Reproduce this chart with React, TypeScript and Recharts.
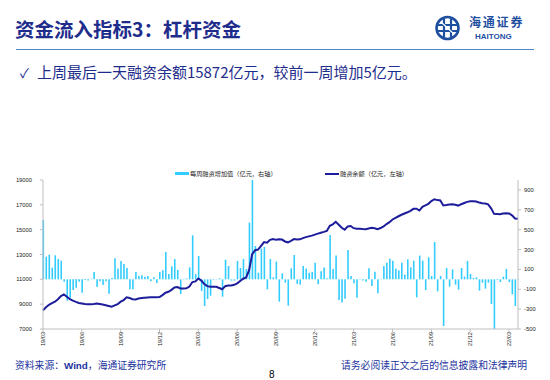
import { ComposedChart, Bar, Line, XAxis, YAxis } from 'recharts'

// weekly financing net change (亿元, right axis), 19/03 -> 22/04
const weeklyChange = [
  598, 228, 249, 118, 242, 205, 188, -24, -215, -185,
  -108, -84, -24, -134, -7, -13, 7, 74, -74, -20,
  -57, -20, -144, 13, 212, 108, 185, 155, 114, -100,
  -100, 74, 34, 40, 27, 34, -20, 20, -37, 74,
  91, 276, 54, 131, 205, 94, -148, 5, 8, 121,
  443, 54, 235, -118, -269, -198, -165, -5, 3, 10,
  -175, 198, 134, -13, -13, 185, 114, 205, 104, 571,
  1000, 336, 67, 309, 326, -100, 205, 20, 178, -225,
  60, -34, -265, 111, 245, -47, -54, 134, 108, 67,
  74, 168, -50, 81, 118, 10, 447, 104, 239, -208,
  -232, -195, 296, 34, -40, -185, 7, -13, -24, 111,
  -67, 77, -141, 5, 134, 168, 208, 188, 108, 91,
  168, 47, 202, 121, 188, -181, 239, 188, -108, 222,
  34, 376, -121, 34, -470, 114, -74, 101, -54, -104,
  114, 27, 185, 54, 13, 20, -114, -34, -94, -34,
  -249, -500, -7, -27, 27, 104, -27, -151, -269, 5,
]

// financing balance (亿元, left axis)
const balance = [
  8500, 8750, 8950, 9080, 9200, 9400, 9650, 9780, 9600, 9400,
  9280, 9180, 9100, 9060, 9010, 9000, 9000, 9020, 9060, 9020,
  8980, 8920, 8860, 8800, 8900, 9000, 9200, 9330, 9550, 9500,
  9400, 9380, 9450, 9500, 9520, 9540, 9550, 9550, 9550, 9570,
  9730, 9920, 10000, 10150, 10350, 10380, 10270, 10270, 10280, 10420,
  10780, 10830, 11070, 10900, 10620, 10450, 10400, 10400, 10400, 10300,
  10200, 10450, 10510, 10510, 10560, 10680, 10870, 11050, 11150, 11740,
  13000, 13350, 13400, 13700, 14000, 13950, 14180, 14250, 14180, 14220,
  14200, 14050, 13980, 14100, 14240, 14200, 14220, 14320, 14400, 14460,
  14520, 14600, 14680, 14750, 14820, 14900, 15310, 15430, 15630, 15400,
  15150, 15000, 15260, 15300, 15120, 15080, 15070, 15050, 15040, 15100,
  15150, 15120, 15040, 15130, 15260, 15450, 15600, 15820, 15950, 16080,
  16200, 16300, 16400, 16520, 16680, 16690, 16540, 16840, 16950, 17080,
  17300, 17450, 17380, 17350, 16950, 16980, 17020, 17050, 17000, 16940,
  17050, 17150, 17240, 17280, 17290, 17260, 17180, 17130, 17100, 17040,
  16720, 16270, 16260, 16250, 16300, 16330, 16300, 16150, 15900, 15872,
]

const tickWeeks = [0, 13, 26, 39, 52, 65, 78, 91, 104, 117, 130, 143, 156]
const tickLabels = ['19/03', '19/06', '19/09', '19/12', '20/03', '20/06', '20/09', '20/12', '21/03', '21/06', '21/09', '21/12', '22/03']
const leftTicks = [7000, 9000, 11000, 13000, 15000, 17000, 19000]
const rightTicks = [-500, -300, -100, 100, 300, 500, 700, 900]

const rows = weeklyChange.map((v, i) => ({ i, change: v, balance: balance[i] }))

const NAVY = '#1E2C8C'
const CJK = '"Noto Sans CJK SC", "Noto Sans", sans-serif'
const SANS = '"Liberation Sans", Arial, sans-serif'
const AXIS = '#BFBFBF'

function DateTick({ x, y, payload }: any) {
  const idx = tickWeeks.indexOf(payload.value)
  return (
    <text
      x={x}
      y={y}
      transform={`rotate(-90, ${x}, ${y})`}
      textAnchor="end"
      dominantBaseline="central"
      fontSize={5.6}
      fontFamily={SANS}
      fill="#222"
    >
      {idx >= 0 ? tickLabels[idx] : ''}
    </text>
  )
}

function Logo() {
  return (
    <svg width={550} height={50} style={{ position: 'absolute', left: 0, top: 0 }}>
      <circle cx={447.5} cy={28} r={11} fill="none" stroke="#1F4F9F" strokeWidth={2.6} />
      <path d="M438 25 H457 M438 31 H457 M444 19 V37 M451 19 V37" stroke="#1F4F9F" strokeWidth={2.2} fill="none" />
      <path d="M441 22 Q447.5 28 454 34" stroke="#fff" strokeWidth={1.2} fill="none" />
    </svg>
  )
}

export default function App() {
  return (
    <div style={{ position: 'absolute', left: 0, top: 0, width: 550, height: 380, background: '#fff', overflow: 'hidden' }}>
      <div style={{ position: 'absolute', left: 15, top: 15, fontFamily: CJK, fontWeight: 700, fontSize: 19.5, color: NAVY, whiteSpace: 'nowrap', lineHeight: '28px' }}>
        资金流入指标3：杠杆资金
      </div>
      <Logo />
      <div style={{ position: 'absolute', left: 469, top: 16, fontFamily: CJK, fontWeight: 700, fontSize: 12, color: '#1F4F9F', letterSpacing: 1.8, whiteSpace: 'nowrap', lineHeight: '12px' }}>
        海通证券
      </div>
      <div style={{ position: 'absolute', left: 475, top: 33, fontFamily: SANS, fontWeight: 700, fontSize: 8, color: '#1F4F9F', whiteSpace: 'nowrap', lineHeight: '8px' }}>
        HAITONG
      </div>
      <div style={{ position: 'absolute', left: 16, top: 48.5, width: 518, height: 1.5, background: '#4F86C6' }} />

      <div style={{ position: 'absolute', left: 20, top: 62, fontFamily: CJK, fontSize: 15, color: NAVY, whiteSpace: 'nowrap', lineHeight: '20px' }}>
        <span style={{ fontSize: 13, marginRight: 8 }}>✓</span>
        上周最后一天融资余额15872亿元，较前一周增加5亿元。
      </div>

      {/* legend */}
      <div style={{ position: 'absolute', left: 175, top: 172, width: 14, height: 3, background: '#33CCFF' }} />
      <div style={{ position: 'absolute', left: 190, top: 169, fontFamily: CJK, fontSize: 6.2, color: '#222', whiteSpace: 'nowrap', lineHeight: '9px' }}>
        每周融资增加值（亿元，右轴）
      </div>
      <div style={{ position: 'absolute', left: 325, top: 172.5, width: 14, height: 2, background: '#1D1D9B' }} />
      <div style={{ position: 'absolute', left: 340, top: 169, fontFamily: CJK, fontSize: 6.2, color: '#222', whiteSpace: 'nowrap', lineHeight: '9px' }}>
        融资余额（亿元，左轴）
      </div>

      <div style={{ position: 'absolute', left: 0, top: 160 }}>
        <ComposedChart width={550} height={200} data={rows} margin={{ top: 20, right: 0, bottom: 0, left: 0 }}>
          <XAxis
            dataKey="i"
            type="number"
            domain={[0, 159]}
            ticks={tickWeeks}
            interval={0}
            tick={<DateTick />}
            tickSize={3}
            tickMargin={0}
            height={31}
            axisLine={{ stroke: AXIS }}
            tickLine={{ stroke: AXIS }}
          />
          <YAxis
            yAxisId="left"
            width={43}
            domain={[7000, 19000]}
            ticks={leftTicks}
            interval={0}
            tickSize={3}
            tickMargin={8}
            tick={{ fontSize: 5.8, fill: '#222', fontFamily: SANS }}
            axisLine={{ stroke: AXIS }}
            tickLine={{ stroke: AXIS }}
          />
          <YAxis
            yAxisId="right"
            orientation="right"
            width={32}
            domain={[-500, 1000]}
            ticks={rightTicks}
            interval={0}
            tickSize={3}
            tickMargin={3}
            allowDataOverflow
            tick={{ fontSize: 5.8, fill: '#222', fontFamily: SANS }}
            axisLine={{ stroke: AXIS }}
            tickLine={{ stroke: AXIS }}
          />
          <Bar yAxisId="right" dataKey="change" fill="#33CCFF" barSize={1.6} isAnimationActive={false} />
          <Line yAxisId="left" type="linear" dataKey="balance" stroke="#1D1D9B" strokeWidth={2} dot={false} isAnimationActive={false} />
        </ComposedChart>
      </div>

      <div style={{ position: 'absolute', left: 15, top: 358, fontFamily: CJK, fontSize: 9.8, color: '#2233A0', whiteSpace: 'nowrap', lineHeight: '14px' }}>
        资料来源：<span style={{ fontFamily: SANS, fontWeight: 700 }}>Wind</span>，海通证券研究所
      </div>
      <div style={{ position: 'absolute', left: 341, top: 358, fontFamily: CJK, fontSize: 9.8, color: '#2233A0', whiteSpace: 'nowrap', lineHeight: '14px' }}>
        请务必阅读正文之后的信息披露和法律声明
      </div>
      <div style={{ position: 'absolute', left: 269, top: 368, fontFamily: SANS, fontSize: 10, color: '#000', lineHeight: '14px' }}>
        8
      </div>
    </div>
  )
}
